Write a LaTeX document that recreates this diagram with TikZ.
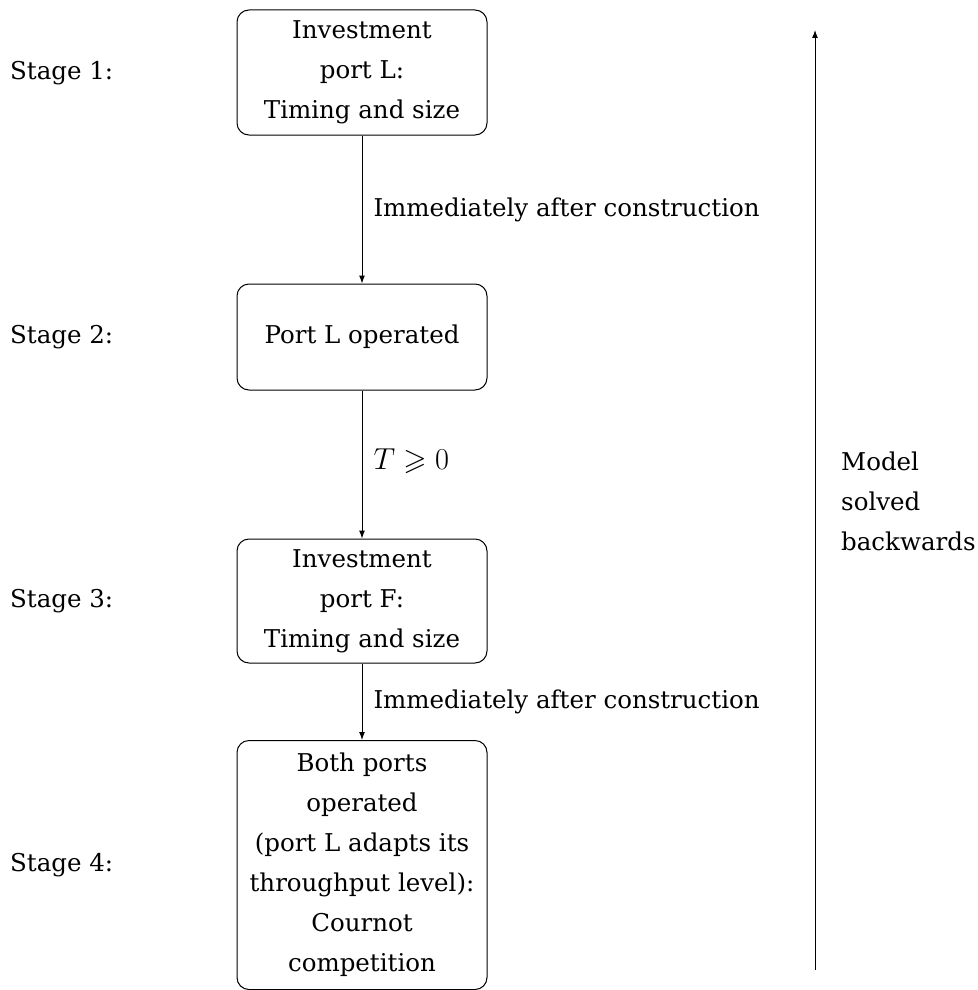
\documentclass[tikz,border=0pt]{standalone}
\usepackage{amssymb}
\usepackage{graphicx}
\usepackage{fontspec}
\setmainfont{DejaVu Serif}
\usetikzlibrary{arrows.meta}
\begin{document}
\begin{tikzpicture}[x=1pt,y=-1pt,
  every node/.style={font=\fontsize{24.5}{40}\selectfont},
  stagebox/.style={draw,line width=1pt,rounded corners=12pt,minimum width=250pt,
    inner sep=0pt,align=center},
  flow/.style={line width=1pt,-{Latex[length=8pt,width=6pt]}},
  lbl/.style={anchor=west,inner sep=0pt}]
\useasboundingbox (0,0) rectangle (977,990);
% stages
\node[stagebox,minimum height=125pt] (s1) at (362,72.5) {Investment\\port L:\\Timing and size};
\node[stagebox,minimum height=106pt] (s2) at (362,337) {Port L operated};
\node[stagebox,minimum height=124pt] (s3) at (362,601) {Investment\\port F:\\Timing and size};
\node[stagebox,minimum height=249pt] (s4) at (362,865) {Both ports\\operated\\(port L adapts its\\throughput level):\\Cournot\\competition};
% stage names
\node[anchor=west,inner sep=0pt] (n1) at (10,73) {Stage 1:};
\node[anchor=west,inner sep=0pt] (n2) at (10,337) {Stage 2:};
\node[anchor=west,inner sep=0pt] (n3) at (10,601) {Stage 3:};
\node[anchor=west,inner sep=0pt] (n4) at (10,865) {Stage 4:};
% transitions
\draw[flow] (s1) -- node[lbl,xshift=11pt] (t1) {Immediately after construction} (s2);
\draw[flow] (s2) -- node[lbl,xshift=11pt,yshift=3pt] (t2) {\scalebox{1.22}{$T \geqslant 0$}} (s3);
\draw[flow] (s3) -- node[lbl,xshift=11pt] (t3) {Immediately after construction} (s4);
% solution direction
\coordinate (b0) at (815,970);
\coordinate (b1) at (815,30);
\draw[flow] (b0) -- (b1);
\node[anchor=west,inner sep=0pt,align=left] (m) at (841,501) {Model\\solved\\backwards};
\end{tikzpicture}
\end{document}
